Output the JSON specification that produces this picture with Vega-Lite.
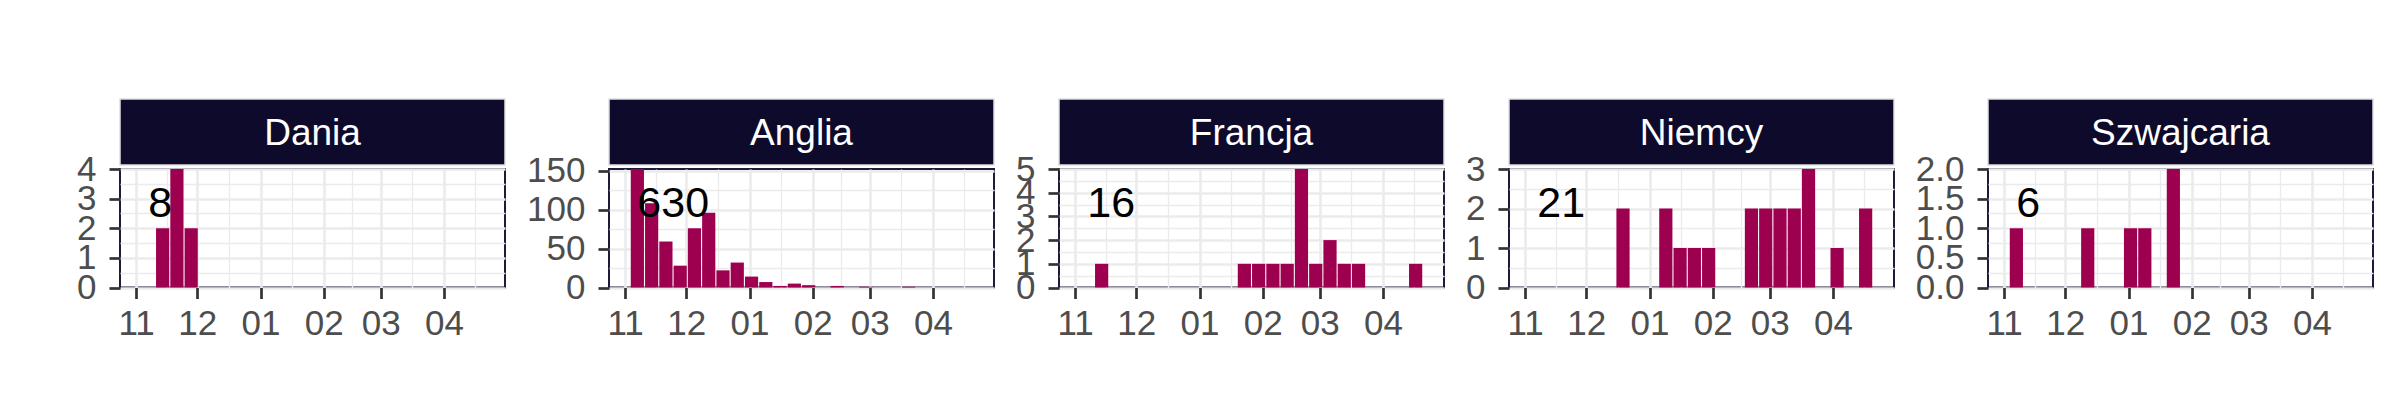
{
  "$schema": "https://vega.github.io/schema/vega-lite/v6.json",
  "background": "white",
  "padding": {"left": 75, "top": 98, "right": 5, "bottom": 5},
  "autosize": {"type": "pad"},
  "datasets": {
    "weekly": [
      {"country": "Dania", "date": "2021-11-14", "n": 2},
      {"country": "Dania", "date": "2021-11-21", "n": 4},
      {"country": "Dania", "date": "2021-11-28", "n": 2},
      {"country": "Anglia", "date": "2021-11-07", "n": 152},
      {"country": "Anglia", "date": "2021-11-14", "n": 108},
      {"country": "Anglia", "date": "2021-11-21", "n": 59},
      {"country": "Anglia", "date": "2021-11-28", "n": 28},
      {"country": "Anglia", "date": "2021-12-05", "n": 76},
      {"country": "Anglia", "date": "2021-12-12", "n": 96},
      {"country": "Anglia", "date": "2021-12-19", "n": 22},
      {"country": "Anglia", "date": "2021-12-26", "n": 32},
      {"country": "Anglia", "date": "2022-01-02", "n": 14},
      {"country": "Anglia", "date": "2022-01-09", "n": 7},
      {"country": "Anglia", "date": "2022-01-16", "n": 2},
      {"country": "Anglia", "date": "2022-01-23", "n": 5},
      {"country": "Anglia", "date": "2022-01-30", "n": 3},
      {"country": "Anglia", "date": "2022-02-13", "n": 2},
      {"country": "Anglia", "date": "2022-02-27", "n": 1},
      {"country": "Anglia", "date": "2022-03-20", "n": 1},
      {"country": "Francja", "date": "2021-11-14", "n": 1},
      {"country": "Francja", "date": "2022-01-23", "n": 1},
      {"country": "Francja", "date": "2022-01-30", "n": 1},
      {"country": "Francja", "date": "2022-02-06", "n": 1},
      {"country": "Francja", "date": "2022-02-13", "n": 1},
      {"country": "Francja", "date": "2022-02-20", "n": 5},
      {"country": "Francja", "date": "2022-02-27", "n": 1},
      {"country": "Francja", "date": "2022-03-06", "n": 2},
      {"country": "Francja", "date": "2022-03-13", "n": 1},
      {"country": "Francja", "date": "2022-03-20", "n": 1},
      {"country": "Francja", "date": "2022-04-17", "n": 1},
      {"country": "Niemcy", "date": "2021-12-19", "n": 2},
      {"country": "Niemcy", "date": "2022-01-09", "n": 2},
      {"country": "Niemcy", "date": "2022-01-16", "n": 1},
      {"country": "Niemcy", "date": "2022-01-23", "n": 1},
      {"country": "Niemcy", "date": "2022-01-30", "n": 1},
      {"country": "Niemcy", "date": "2022-02-20", "n": 2},
      {"country": "Niemcy", "date": "2022-02-27", "n": 2},
      {"country": "Niemcy", "date": "2022-03-06", "n": 2},
      {"country": "Niemcy", "date": "2022-03-13", "n": 2},
      {"country": "Niemcy", "date": "2022-03-20", "n": 3},
      {"country": "Niemcy", "date": "2022-04-03", "n": 1},
      {"country": "Niemcy", "date": "2022-04-17", "n": 2},
      {"country": "Szwajcaria", "date": "2021-11-07", "n": 1},
      {"country": "Szwajcaria", "date": "2021-12-12", "n": 1},
      {"country": "Szwajcaria", "date": "2022-01-02", "n": 1},
      {"country": "Szwajcaria", "date": "2022-01-09", "n": 1},
      {"country": "Szwajcaria", "date": "2022-01-23", "n": 2}
    ],
    "totals": [
      {"country": "Dania", "total": 8},
      {"country": "Anglia", "total": 630},
      {"country": "Francja", "total": 16},
      {"country": "Niemcy", "total": 21},
      {"country": "Szwajcaria", "total": 6}
    ]
  },
  "config": {
    "font": "Liberation Sans",
    "view": {"stroke": "#1E1A3A", "strokeWidth": 2},
    "axis": {
      "domain": false,
      "labelFont": "Liberation Sans",
      "labelFontSize": 35,
      "labelColor": "#4D4D4D",
      "tickColor": "#333333",
      "tickSize": 11,
      "tickWidth": 2.7,
      "gridColor": "#EBEBEB",
      "labelFlush": false,
      "labelOverlap": false
    },
    "axisX": {"labelPadding": 8},
    "axisY": {"labelPadding": 13}
  },
  "spacing": 19,
  "resolve": {"scale": {"x": "independent", "y": "independent"}},
  "hconcat": [
    {
      "bounds": "flush",
      "spacing": 4,
      "resolve": {"scale": {"x": "independent", "y": "independent"}},
      "vconcat": [
        {
          "data": {"name": "totals"},
          "transform": [{"filter": "datum.country === 'Dania'"}],
          "width": 385, "height": 66,
          "view": {"fill": "#0E0A2B", "stroke": "#E0E0E0", "strokeWidth": 1.5},
          "mark": {"type": "text", "color": "white", "fontSize": 37, "font": "Liberation Sans", "dy": 2},
          "encoding": {"text": {"field": "country"}}
        },
        {
          "width": 385, "height": 118.5,
          "layer": [
            {
              "data": {"name": "weekly"},
              "transform": [{"filter": "datum.country === 'Dania'"}],
              "mark": {"type": "bar", "width": 13.2, "color": "#9E0050"},
              "encoding": {
                "x": {"field": "date", "type": "temporal", "scale": {"type": "utc", "domain": [{"year": 2021, "month": 10, "date": 26, "hours": 13, "utc": true}, {"year": 2022, "month": 4, "date": 28, "hours": 11, "utc": true}]},
                  "axis": {"title": null, "values": [{"year": 2021, "month": 11, "date": 1, "utc": true}, {"year": 2021, "month": 11, "date": 16, "utc": true}, {"year": 2021, "month": 12, "date": 1, "utc": true}, {"year": 2021, "month": 12, "date": 16, "hours": 12, "utc": true}, {"year": 2022, "month": 1, "date": 1, "utc": true}, {"year": 2022, "month": 1, "date": 16, "hours": 12, "utc": true}, {"year": 2022, "month": 2, "date": 1, "utc": true}, {"year": 2022, "month": 2, "date": 15, "utc": true}, {"year": 2022, "month": 3, "date": 1, "utc": true}, {"year": 2022, "month": 3, "date": 16, "hours": 12, "utc": true}, {"year": 2022, "month": 4, "date": 1, "utc": true}, {"year": 2022, "month": 4, "date": 16, "utc": true}],
                    "labelExpr": "utcdate(datum.value) === 1 ? utcFormat(datum.value, '%m') : ''",
                    "gridWidth": {"condition": {"test": "utcdate(datum.value) === 1", "value": 2.6}, "value": 1.3},
                    "tickOpacity": {"condition": {"test": "utcdate(datum.value) === 1", "value": 1}, "value": 0}}},
                "y": {"field": "n", "type": "quantitative", "scale": {"domain": [0, 4], "nice": false},
                  "axis": {"title": null, "values": [0, 0.5, 1, 1.5, 2, 2.5, 3, 3.5, 4],
                    "labelExpr": "datum.value % 1 === 0 ? format(datum.value, 'd') : ''",
                    "gridWidth": {"condition": {"test": "datum.value % 1 === 0", "value": 2.6}, "value": 1.3},
                    "tickOpacity": {"condition": {"test": "datum.value % 1 === 0", "value": 1}, "value": 0}}}
              }
            },
            {
              "data": {"name": "totals"},
              "transform": [{"filter": "datum.country === 'Dania'"}],
              "mark": {"type": "text", "align": "left", "baseline": "top", "dy": 13.5, "fontSize": 43, "color": "black", "font": "Liberation Sans"},
              "encoding": {
                "x": {"datum": {"year": 2021, "month": 11, "date": 7, "utc": true}, "type": "temporal", "scale": {"type": "utc", "domain": [{"year": 2021, "month": 10, "date": 26, "hours": 13, "utc": true}, {"year": 2022, "month": 4, "date": 28, "hours": 11, "utc": true}]},
                  "axis": {"title": null, "values": [{"year": 2021, "month": 11, "date": 1, "utc": true}, {"year": 2021, "month": 11, "date": 16, "utc": true}, {"year": 2021, "month": 12, "date": 1, "utc": true}, {"year": 2021, "month": 12, "date": 16, "hours": 12, "utc": true}, {"year": 2022, "month": 1, "date": 1, "utc": true}, {"year": 2022, "month": 1, "date": 16, "hours": 12, "utc": true}, {"year": 2022, "month": 2, "date": 1, "utc": true}, {"year": 2022, "month": 2, "date": 15, "utc": true}, {"year": 2022, "month": 3, "date": 1, "utc": true}, {"year": 2022, "month": 3, "date": 16, "hours": 12, "utc": true}, {"year": 2022, "month": 4, "date": 1, "utc": true}, {"year": 2022, "month": 4, "date": 16, "utc": true}],
                    "labelExpr": "utcdate(datum.value) === 1 ? utcFormat(datum.value, '%m') : ''",
                    "gridWidth": {"condition": {"test": "utcdate(datum.value) === 1", "value": 2.6}, "value": 1.3},
                    "tickOpacity": {"condition": {"test": "utcdate(datum.value) === 1", "value": 1}, "value": 0}}},
                "y": {"datum": 4, "type": "quantitative", "scale": {"domain": [0, 4], "nice": false},
                  "axis": {"title": null, "values": [0, 0.5, 1, 1.5, 2, 2.5, 3, 3.5, 4],
                    "labelExpr": "datum.value % 1 === 0 ? format(datum.value, 'd') : ''",
                    "gridWidth": {"condition": {"test": "datum.value % 1 === 0", "value": 2.6}, "value": 1.3},
                    "tickOpacity": {"condition": {"test": "datum.value % 1 === 0", "value": 1}, "value": 0}}},
                "text": {"field": "total"}
              }
            }
          ]
        }
      ]
    },
    {
      "bounds": "flush",
      "spacing": 4,
      "resolve": {"scale": {"x": "independent", "y": "independent"}},
      "vconcat": [
        {
          "data": {"name": "totals"},
          "transform": [{"filter": "datum.country === 'Anglia'"}],
          "width": 385, "height": 66,
          "view": {"fill": "#0E0A2B", "stroke": "#E0E0E0", "strokeWidth": 1.5},
          "mark": {"type": "text", "color": "white", "fontSize": 37, "font": "Liberation Sans", "dy": 2},
          "encoding": {"text": {"field": "country"}}
        },
        {
          "width": 385, "height": 118.5,
          "layer": [
            {
              "data": {"name": "weekly"},
              "transform": [{"filter": "datum.country === 'Anglia'"}],
              "mark": {"type": "bar", "width": 13.2, "color": "#9E0050"},
              "encoding": {
                "x": {"field": "date", "type": "temporal", "scale": {"type": "utc", "domain": [{"year": 2021, "month": 10, "date": 26, "hours": 13, "utc": true}, {"year": 2022, "month": 4, "date": 28, "hours": 11, "utc": true}]},
                  "axis": {"title": null, "values": [{"year": 2021, "month": 11, "date": 1, "utc": true}, {"year": 2021, "month": 11, "date": 16, "utc": true}, {"year": 2021, "month": 12, "date": 1, "utc": true}, {"year": 2021, "month": 12, "date": 16, "hours": 12, "utc": true}, {"year": 2022, "month": 1, "date": 1, "utc": true}, {"year": 2022, "month": 1, "date": 16, "hours": 12, "utc": true}, {"year": 2022, "month": 2, "date": 1, "utc": true}, {"year": 2022, "month": 2, "date": 15, "utc": true}, {"year": 2022, "month": 3, "date": 1, "utc": true}, {"year": 2022, "month": 3, "date": 16, "hours": 12, "utc": true}, {"year": 2022, "month": 4, "date": 1, "utc": true}, {"year": 2022, "month": 4, "date": 16, "utc": true}],
                    "labelExpr": "utcdate(datum.value) === 1 ? utcFormat(datum.value, '%m') : ''",
                    "gridWidth": {"condition": {"test": "utcdate(datum.value) === 1", "value": 2.6}, "value": 1.3},
                    "tickOpacity": {"condition": {"test": "utcdate(datum.value) === 1", "value": 1}, "value": 0}}},
                "y": {"field": "n", "type": "quantitative", "scale": {"domain": [0, 152], "nice": false},
                  "axis": {"title": null, "values": [0, 25, 50, 75, 100, 125, 150],
                    "labelExpr": "datum.value % 50 === 0 ? format(datum.value, 'd') : ''",
                    "gridWidth": {"condition": {"test": "datum.value % 50 === 0", "value": 2.6}, "value": 1.3},
                    "tickOpacity": {"condition": {"test": "datum.value % 50 === 0", "value": 1}, "value": 0}}}
              }
            },
            {
              "data": {"name": "totals"},
              "transform": [{"filter": "datum.country === 'Anglia'"}],
              "mark": {"type": "text", "align": "left", "baseline": "top", "dy": 13.5, "fontSize": 43, "color": "black", "font": "Liberation Sans"},
              "encoding": {
                "x": {"datum": {"year": 2021, "month": 11, "date": 7, "utc": true}, "type": "temporal", "scale": {"type": "utc", "domain": [{"year": 2021, "month": 10, "date": 26, "hours": 13, "utc": true}, {"year": 2022, "month": 4, "date": 28, "hours": 11, "utc": true}]},
                  "axis": {"title": null, "values": [{"year": 2021, "month": 11, "date": 1, "utc": true}, {"year": 2021, "month": 11, "date": 16, "utc": true}, {"year": 2021, "month": 12, "date": 1, "utc": true}, {"year": 2021, "month": 12, "date": 16, "hours": 12, "utc": true}, {"year": 2022, "month": 1, "date": 1, "utc": true}, {"year": 2022, "month": 1, "date": 16, "hours": 12, "utc": true}, {"year": 2022, "month": 2, "date": 1, "utc": true}, {"year": 2022, "month": 2, "date": 15, "utc": true}, {"year": 2022, "month": 3, "date": 1, "utc": true}, {"year": 2022, "month": 3, "date": 16, "hours": 12, "utc": true}, {"year": 2022, "month": 4, "date": 1, "utc": true}, {"year": 2022, "month": 4, "date": 16, "utc": true}],
                    "labelExpr": "utcdate(datum.value) === 1 ? utcFormat(datum.value, '%m') : ''",
                    "gridWidth": {"condition": {"test": "utcdate(datum.value) === 1", "value": 2.6}, "value": 1.3},
                    "tickOpacity": {"condition": {"test": "utcdate(datum.value) === 1", "value": 1}, "value": 0}}},
                "y": {"datum": 152, "type": "quantitative", "scale": {"domain": [0, 152], "nice": false},
                  "axis": {"title": null, "values": [0, 25, 50, 75, 100, 125, 150],
                    "labelExpr": "datum.value % 50 === 0 ? format(datum.value, 'd') : ''",
                    "gridWidth": {"condition": {"test": "datum.value % 50 === 0", "value": 2.6}, "value": 1.3},
                    "tickOpacity": {"condition": {"test": "datum.value % 50 === 0", "value": 1}, "value": 0}}},
                "text": {"field": "total"}
              }
            }
          ]
        }
      ]
    },
    {
      "bounds": "flush",
      "spacing": 4,
      "resolve": {"scale": {"x": "independent", "y": "independent"}},
      "vconcat": [
        {
          "data": {"name": "totals"},
          "transform": [{"filter": "datum.country === 'Francja'"}],
          "width": 385, "height": 66,
          "view": {"fill": "#0E0A2B", "stroke": "#E0E0E0", "strokeWidth": 1.5},
          "mark": {"type": "text", "color": "white", "fontSize": 37, "font": "Liberation Sans", "dy": 2},
          "encoding": {"text": {"field": "country"}}
        },
        {
          "width": 385, "height": 118.5,
          "layer": [
            {
              "data": {"name": "weekly"},
              "transform": [{"filter": "datum.country === 'Francja'"}],
              "mark": {"type": "bar", "width": 13.2, "color": "#9E0050"},
              "encoding": {
                "x": {"field": "date", "type": "temporal", "scale": {"type": "utc", "domain": [{"year": 2021, "month": 10, "date": 26, "hours": 13, "utc": true}, {"year": 2022, "month": 4, "date": 28, "hours": 11, "utc": true}]},
                  "axis": {"title": null, "values": [{"year": 2021, "month": 11, "date": 1, "utc": true}, {"year": 2021, "month": 11, "date": 16, "utc": true}, {"year": 2021, "month": 12, "date": 1, "utc": true}, {"year": 2021, "month": 12, "date": 16, "hours": 12, "utc": true}, {"year": 2022, "month": 1, "date": 1, "utc": true}, {"year": 2022, "month": 1, "date": 16, "hours": 12, "utc": true}, {"year": 2022, "month": 2, "date": 1, "utc": true}, {"year": 2022, "month": 2, "date": 15, "utc": true}, {"year": 2022, "month": 3, "date": 1, "utc": true}, {"year": 2022, "month": 3, "date": 16, "hours": 12, "utc": true}, {"year": 2022, "month": 4, "date": 1, "utc": true}, {"year": 2022, "month": 4, "date": 16, "utc": true}],
                    "labelExpr": "utcdate(datum.value) === 1 ? utcFormat(datum.value, '%m') : ''",
                    "gridWidth": {"condition": {"test": "utcdate(datum.value) === 1", "value": 2.6}, "value": 1.3},
                    "tickOpacity": {"condition": {"test": "utcdate(datum.value) === 1", "value": 1}, "value": 0}}},
                "y": {"field": "n", "type": "quantitative", "scale": {"domain": [0, 5], "nice": false},
                  "axis": {"title": null, "values": [0, 0.5, 1, 1.5, 2, 2.5, 3, 3.5, 4, 4.5, 5],
                    "labelExpr": "datum.value % 1 === 0 ? format(datum.value, 'd') : ''",
                    "gridWidth": {"condition": {"test": "datum.value % 1 === 0", "value": 2.6}, "value": 1.3},
                    "tickOpacity": {"condition": {"test": "datum.value % 1 === 0", "value": 1}, "value": 0}}}
              }
            },
            {
              "data": {"name": "totals"},
              "transform": [{"filter": "datum.country === 'Francja'"}],
              "mark": {"type": "text", "align": "left", "baseline": "top", "dy": 13.5, "fontSize": 43, "color": "black", "font": "Liberation Sans"},
              "encoding": {
                "x": {"datum": {"year": 2021, "month": 11, "date": 7, "utc": true}, "type": "temporal", "scale": {"type": "utc", "domain": [{"year": 2021, "month": 10, "date": 26, "hours": 13, "utc": true}, {"year": 2022, "month": 4, "date": 28, "hours": 11, "utc": true}]},
                  "axis": {"title": null, "values": [{"year": 2021, "month": 11, "date": 1, "utc": true}, {"year": 2021, "month": 11, "date": 16, "utc": true}, {"year": 2021, "month": 12, "date": 1, "utc": true}, {"year": 2021, "month": 12, "date": 16, "hours": 12, "utc": true}, {"year": 2022, "month": 1, "date": 1, "utc": true}, {"year": 2022, "month": 1, "date": 16, "hours": 12, "utc": true}, {"year": 2022, "month": 2, "date": 1, "utc": true}, {"year": 2022, "month": 2, "date": 15, "utc": true}, {"year": 2022, "month": 3, "date": 1, "utc": true}, {"year": 2022, "month": 3, "date": 16, "hours": 12, "utc": true}, {"year": 2022, "month": 4, "date": 1, "utc": true}, {"year": 2022, "month": 4, "date": 16, "utc": true}],
                    "labelExpr": "utcdate(datum.value) === 1 ? utcFormat(datum.value, '%m') : ''",
                    "gridWidth": {"condition": {"test": "utcdate(datum.value) === 1", "value": 2.6}, "value": 1.3},
                    "tickOpacity": {"condition": {"test": "utcdate(datum.value) === 1", "value": 1}, "value": 0}}},
                "y": {"datum": 5, "type": "quantitative", "scale": {"domain": [0, 5], "nice": false},
                  "axis": {"title": null, "values": [0, 0.5, 1, 1.5, 2, 2.5, 3, 3.5, 4, 4.5, 5],
                    "labelExpr": "datum.value % 1 === 0 ? format(datum.value, 'd') : ''",
                    "gridWidth": {"condition": {"test": "datum.value % 1 === 0", "value": 2.6}, "value": 1.3},
                    "tickOpacity": {"condition": {"test": "datum.value % 1 === 0", "value": 1}, "value": 0}}},
                "text": {"field": "total"}
              }
            }
          ]
        }
      ]
    },
    {
      "bounds": "flush",
      "spacing": 4,
      "resolve": {"scale": {"x": "independent", "y": "independent"}},
      "vconcat": [
        {
          "data": {"name": "totals"},
          "transform": [{"filter": "datum.country === 'Niemcy'"}],
          "width": 385, "height": 66,
          "view": {"fill": "#0E0A2B", "stroke": "#E0E0E0", "strokeWidth": 1.5},
          "mark": {"type": "text", "color": "white", "fontSize": 37, "font": "Liberation Sans", "dy": 2},
          "encoding": {"text": {"field": "country"}}
        },
        {
          "width": 385, "height": 118.5,
          "layer": [
            {
              "data": {"name": "weekly"},
              "transform": [{"filter": "datum.country === 'Niemcy'"}],
              "mark": {"type": "bar", "width": 13.2, "color": "#9E0050"},
              "encoding": {
                "x": {"field": "date", "type": "temporal", "scale": {"type": "utc", "domain": [{"year": 2021, "month": 10, "date": 26, "hours": 13, "utc": true}, {"year": 2022, "month": 4, "date": 28, "hours": 11, "utc": true}]},
                  "axis": {"title": null, "values": [{"year": 2021, "month": 11, "date": 1, "utc": true}, {"year": 2021, "month": 11, "date": 16, "utc": true}, {"year": 2021, "month": 12, "date": 1, "utc": true}, {"year": 2021, "month": 12, "date": 16, "hours": 12, "utc": true}, {"year": 2022, "month": 1, "date": 1, "utc": true}, {"year": 2022, "month": 1, "date": 16, "hours": 12, "utc": true}, {"year": 2022, "month": 2, "date": 1, "utc": true}, {"year": 2022, "month": 2, "date": 15, "utc": true}, {"year": 2022, "month": 3, "date": 1, "utc": true}, {"year": 2022, "month": 3, "date": 16, "hours": 12, "utc": true}, {"year": 2022, "month": 4, "date": 1, "utc": true}, {"year": 2022, "month": 4, "date": 16, "utc": true}],
                    "labelExpr": "utcdate(datum.value) === 1 ? utcFormat(datum.value, '%m') : ''",
                    "gridWidth": {"condition": {"test": "utcdate(datum.value) === 1", "value": 2.6}, "value": 1.3},
                    "tickOpacity": {"condition": {"test": "utcdate(datum.value) === 1", "value": 1}, "value": 0}}},
                "y": {"field": "n", "type": "quantitative", "scale": {"domain": [0, 3], "nice": false},
                  "axis": {"title": null, "values": [0, 0.5, 1, 1.5, 2, 2.5, 3],
                    "labelExpr": "datum.value % 1 === 0 ? format(datum.value, 'd') : ''",
                    "gridWidth": {"condition": {"test": "datum.value % 1 === 0", "value": 2.6}, "value": 1.3},
                    "tickOpacity": {"condition": {"test": "datum.value % 1 === 0", "value": 1}, "value": 0}}}
              }
            },
            {
              "data": {"name": "totals"},
              "transform": [{"filter": "datum.country === 'Niemcy'"}],
              "mark": {"type": "text", "align": "left", "baseline": "top", "dy": 13.5, "fontSize": 43, "color": "black", "font": "Liberation Sans"},
              "encoding": {
                "x": {"datum": {"year": 2021, "month": 11, "date": 7, "utc": true}, "type": "temporal", "scale": {"type": "utc", "domain": [{"year": 2021, "month": 10, "date": 26, "hours": 13, "utc": true}, {"year": 2022, "month": 4, "date": 28, "hours": 11, "utc": true}]},
                  "axis": {"title": null, "values": [{"year": 2021, "month": 11, "date": 1, "utc": true}, {"year": 2021, "month": 11, "date": 16, "utc": true}, {"year": 2021, "month": 12, "date": 1, "utc": true}, {"year": 2021, "month": 12, "date": 16, "hours": 12, "utc": true}, {"year": 2022, "month": 1, "date": 1, "utc": true}, {"year": 2022, "month": 1, "date": 16, "hours": 12, "utc": true}, {"year": 2022, "month": 2, "date": 1, "utc": true}, {"year": 2022, "month": 2, "date": 15, "utc": true}, {"year": 2022, "month": 3, "date": 1, "utc": true}, {"year": 2022, "month": 3, "date": 16, "hours": 12, "utc": true}, {"year": 2022, "month": 4, "date": 1, "utc": true}, {"year": 2022, "month": 4, "date": 16, "utc": true}],
                    "labelExpr": "utcdate(datum.value) === 1 ? utcFormat(datum.value, '%m') : ''",
                    "gridWidth": {"condition": {"test": "utcdate(datum.value) === 1", "value": 2.6}, "value": 1.3},
                    "tickOpacity": {"condition": {"test": "utcdate(datum.value) === 1", "value": 1}, "value": 0}}},
                "y": {"datum": 3, "type": "quantitative", "scale": {"domain": [0, 3], "nice": false},
                  "axis": {"title": null, "values": [0, 0.5, 1, 1.5, 2, 2.5, 3],
                    "labelExpr": "datum.value % 1 === 0 ? format(datum.value, 'd') : ''",
                    "gridWidth": {"condition": {"test": "datum.value % 1 === 0", "value": 2.6}, "value": 1.3},
                    "tickOpacity": {"condition": {"test": "datum.value % 1 === 0", "value": 1}, "value": 0}}},
                "text": {"field": "total"}
              }
            }
          ]
        }
      ]
    },
    {
      "bounds": "flush",
      "spacing": 4,
      "resolve": {"scale": {"x": "independent", "y": "independent"}},
      "vconcat": [
        {
          "data": {"name": "totals"},
          "transform": [{"filter": "datum.country === 'Szwajcaria'"}],
          "width": 385, "height": 66,
          "view": {"fill": "#0E0A2B", "stroke": "#E0E0E0", "strokeWidth": 1.5},
          "mark": {"type": "text", "color": "white", "fontSize": 37, "font": "Liberation Sans", "dy": 2},
          "encoding": {"text": {"field": "country"}}
        },
        {
          "width": 385, "height": 118.5,
          "layer": [
            {
              "data": {"name": "weekly"},
              "transform": [{"filter": "datum.country === 'Szwajcaria'"}],
              "mark": {"type": "bar", "width": 13.2, "color": "#9E0050"},
              "encoding": {
                "x": {"field": "date", "type": "temporal", "scale": {"type": "utc", "domain": [{"year": 2021, "month": 10, "date": 26, "hours": 13, "utc": true}, {"year": 2022, "month": 4, "date": 28, "hours": 11, "utc": true}]},
                  "axis": {"title": null, "values": [{"year": 2021, "month": 11, "date": 1, "utc": true}, {"year": 2021, "month": 11, "date": 16, "utc": true}, {"year": 2021, "month": 12, "date": 1, "utc": true}, {"year": 2021, "month": 12, "date": 16, "hours": 12, "utc": true}, {"year": 2022, "month": 1, "date": 1, "utc": true}, {"year": 2022, "month": 1, "date": 16, "hours": 12, "utc": true}, {"year": 2022, "month": 2, "date": 1, "utc": true}, {"year": 2022, "month": 2, "date": 15, "utc": true}, {"year": 2022, "month": 3, "date": 1, "utc": true}, {"year": 2022, "month": 3, "date": 16, "hours": 12, "utc": true}, {"year": 2022, "month": 4, "date": 1, "utc": true}, {"year": 2022, "month": 4, "date": 16, "utc": true}],
                    "labelExpr": "utcdate(datum.value) === 1 ? utcFormat(datum.value, '%m') : ''",
                    "gridWidth": {"condition": {"test": "utcdate(datum.value) === 1", "value": 2.6}, "value": 1.3},
                    "tickOpacity": {"condition": {"test": "utcdate(datum.value) === 1", "value": 1}, "value": 0}}},
                "y": {"field": "n", "type": "quantitative", "scale": {"domain": [0, 2], "nice": false},
                  "axis": {"title": null, "values": [0, 0.25, 0.5, 0.75, 1, 1.25, 1.5, 1.75, 2],
                    "labelExpr": "datum.value % 0.5 === 0 ? format(datum.value, '.1f') : ''",
                    "gridWidth": {"condition": {"test": "datum.value % 0.5 === 0", "value": 2.6}, "value": 1.3},
                    "tickOpacity": {"condition": {"test": "datum.value % 0.5 === 0", "value": 1}, "value": 0}}}
              }
            },
            {
              "data": {"name": "totals"},
              "transform": [{"filter": "datum.country === 'Szwajcaria'"}],
              "mark": {"type": "text", "align": "left", "baseline": "top", "dy": 13.5, "fontSize": 43, "color": "black", "font": "Liberation Sans"},
              "encoding": {
                "x": {"datum": {"year": 2021, "month": 11, "date": 7, "utc": true}, "type": "temporal", "scale": {"type": "utc", "domain": [{"year": 2021, "month": 10, "date": 26, "hours": 13, "utc": true}, {"year": 2022, "month": 4, "date": 28, "hours": 11, "utc": true}]},
                  "axis": {"title": null, "values": [{"year": 2021, "month": 11, "date": 1, "utc": true}, {"year": 2021, "month": 11, "date": 16, "utc": true}, {"year": 2021, "month": 12, "date": 1, "utc": true}, {"year": 2021, "month": 12, "date": 16, "hours": 12, "utc": true}, {"year": 2022, "month": 1, "date": 1, "utc": true}, {"year": 2022, "month": 1, "date": 16, "hours": 12, "utc": true}, {"year": 2022, "month": 2, "date": 1, "utc": true}, {"year": 2022, "month": 2, "date": 15, "utc": true}, {"year": 2022, "month": 3, "date": 1, "utc": true}, {"year": 2022, "month": 3, "date": 16, "hours": 12, "utc": true}, {"year": 2022, "month": 4, "date": 1, "utc": true}, {"year": 2022, "month": 4, "date": 16, "utc": true}],
                    "labelExpr": "utcdate(datum.value) === 1 ? utcFormat(datum.value, '%m') : ''",
                    "gridWidth": {"condition": {"test": "utcdate(datum.value) === 1", "value": 2.6}, "value": 1.3},
                    "tickOpacity": {"condition": {"test": "utcdate(datum.value) === 1", "value": 1}, "value": 0}}},
                "y": {"datum": 2, "type": "quantitative", "scale": {"domain": [0, 2], "nice": false},
                  "axis": {"title": null, "values": [0, 0.25, 0.5, 0.75, 1, 1.25, 1.5, 1.75, 2],
                    "labelExpr": "datum.value % 0.5 === 0 ? format(datum.value, '.1f') : ''",
                    "gridWidth": {"condition": {"test": "datum.value % 0.5 === 0", "value": 2.6}, "value": 1.3},
                    "tickOpacity": {"condition": {"test": "datum.value % 0.5 === 0", "value": 1}, "value": 0}}},
                "text": {"field": "total"}
              }
            }
          ]
        }
      ]
    }
  ]
}
